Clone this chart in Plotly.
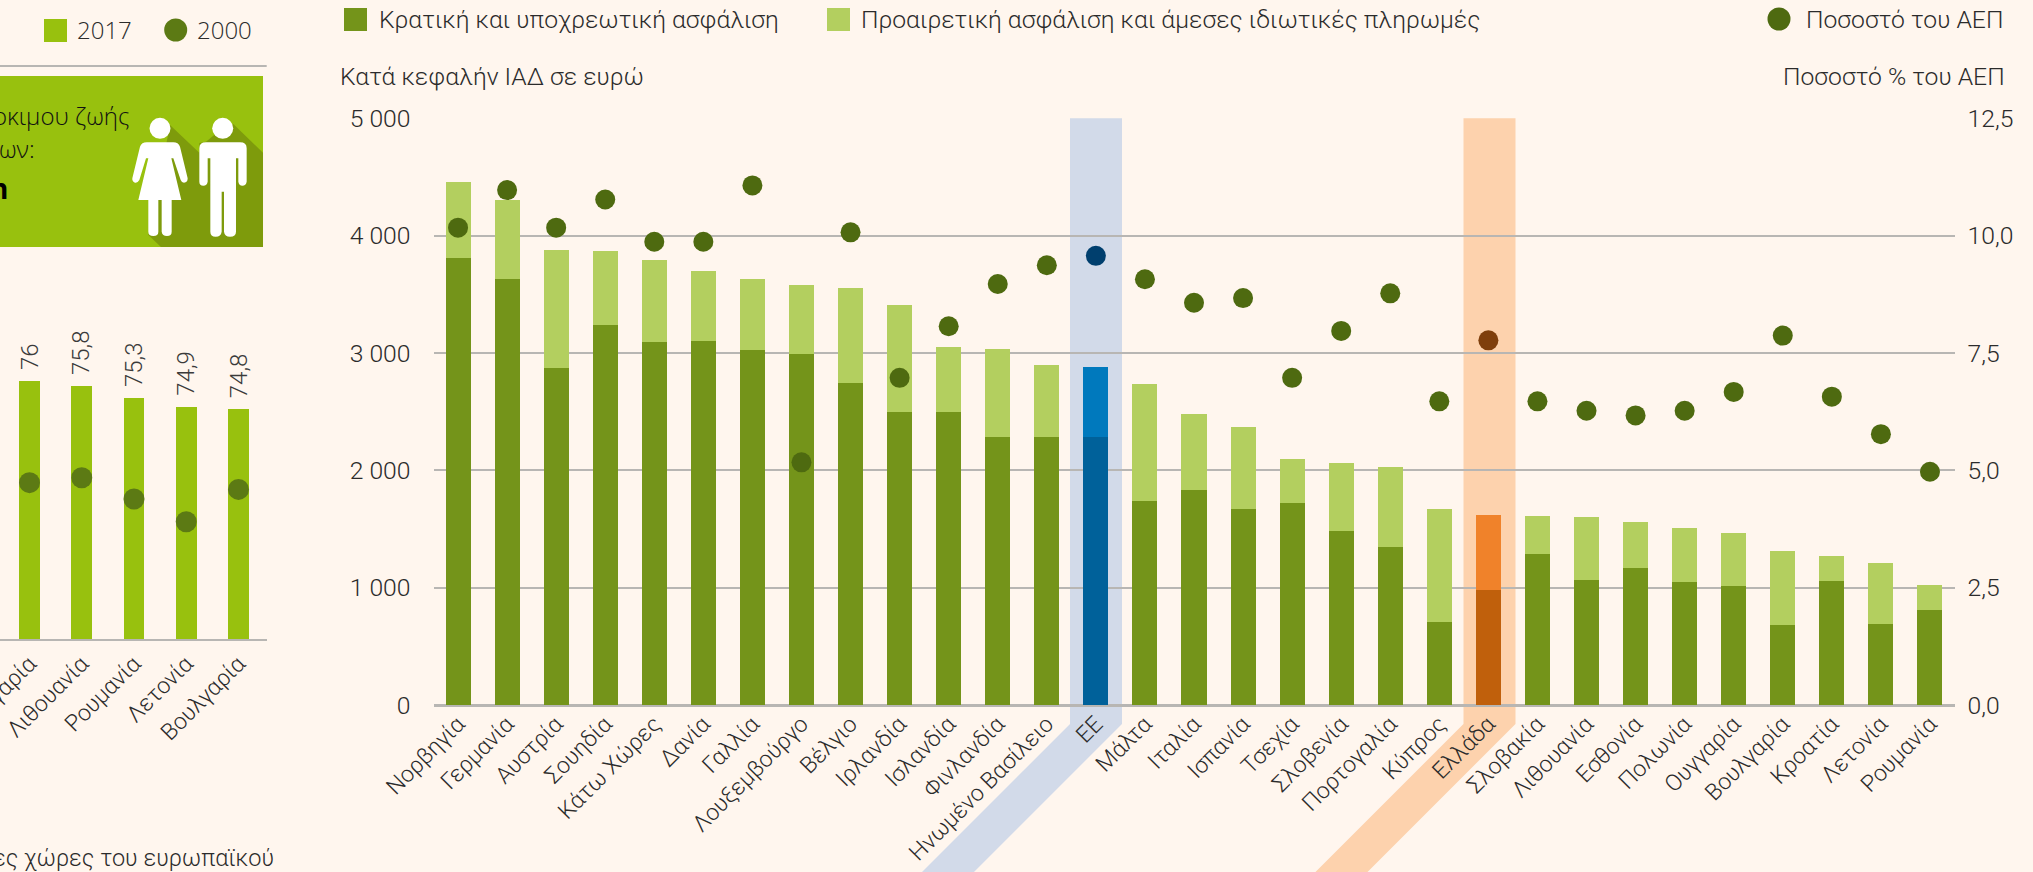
import plotly.graph_objects as go

W, H = 2033, 872

# ---------- data ----------
countries = ["Νορβηγία", "Γερμανία", "Αυστρία", "Σουηδία", "Κάτω Χώρες", "Δανία", "Γαλλία",
             "Λουξεμβούργο", "Βέλγιο", "Ιρλανδία", "Ισλανδία", "Φινλανδία", "Ηνωμένο Βασίλειο",
             "ΕΕ", "Μάλτα", "Ιταλία", "Ισπανία", "Τσεχία", "Σλοβενία", "Πορτογαλία", "Κύπρος",
             "Ελλάδα", "Σλοβακία", "Λιθουανία", "Εσθονία", "Πολωνία", "Ουγγαρία", "Βουλγαρία",
             "Κροατία", "Λετονία", "Ρουμανία"]
public_spend = [3809, 3630, 2871, 3238, 3093, 3102, 3025, 2991, 2743, 2496, 2496, 2285, 2285,
                2285, 1739, 1833, 1671, 1722, 1484, 1347, 708, 980, 1287, 1066, 1168, 1049,
                1015, 682, 1057, 691, 810]
total_spend = [4457, 4304, 3877, 3869, 3792, 3698, 3630, 3579, 3553, 3408, 3050, 3033, 2897,
               2881, 2737, 2481, 2370, 2097, 2063, 2029, 1671, 1620, 1611, 1603, 1560, 1509,
               1466, 1313, 1270, 1211, 1023]
gdp_share = [10.17, 10.97, 10.17, 10.77, 9.87, 9.87, 11.07, 5.17, 10.07, 6.97, 8.07, 8.97, 9.37, 9.57, 9.07,
             8.57, 8.67, 6.97, 7.97, 8.77, 6.47, 7.77, 6.47, 6.27, 6.17, 6.27, 6.67, 7.87, 6.57, 5.77, 4.97]
private_spend = [t - p for t, p in zip(total_spend, public_spend)]

left_countries = ["Ουγγαρία", "Λιθουανία", "Ρουμανία", "Λετονία", "Βουλγαρία"]
life_2017 = [76.0, 75.8, 75.3, 74.9, 74.8]
life_2017_labels = ["76", "75,8", "75,3", "74,9", "74,8"]
life_2000 = [71.67, 71.88, 70.97, 70.0, 71.38]

y_left_ticks = [0, 1000, 2000, 3000, 4000, 5000]
y_left_labels = ["0", "1 000", "2 000", "3 000", "4 000", "5 000"]
y_right_ticks = [0, 2.5, 5, 7.5, 10, 12.5]
y_right_labels = ["0,0", "2,5", "5,0", "7,5", "10,0", "12,5"]

# ---------- styles ----------
BG = "#FFF6EE"
GRID = "#B8B6B3"
TXT = "#2B2B2B"
DARK, LIGHT, DOT = "#74941A", "#B3CF5F", "#4E6A10"
EU_DARK, EU_LIGHT, EU_DOT = "#00619A", "#0079BD", "#003F6E"
GR_DARK, GR_LIGHT, GR_DOT = "#C0600C", "#F0822A", "#7F3F0C"
BAND_EU, BAND_GR = "#D2DAE9", "#FDD2AD"
LEFT_BAR, LEFT_DOT = "#98C10E", "#5C7A14"
SHADOW = "#7E9B0C"
FONT = "Roboto"


def px(x):
    return x / W


def py(y):
    return 1 - y / H


def pick(name, normal, eu, gr):
    return eu if name == "ΕΕ" else gr if name == "Ελλάδα" else normal


def poly(points):
    return "M " + " L ".join(f"{px(x):.5f},{py(y):.5f}" for x, y in points) + " Z"


def icon_path(cmds):
    """Icon outline given in 3x-crop pixels, returned in paper coordinates."""
    out = []
    for c in cmds.split():
        if "," in c:
            a, b = c.split(",")
            out.append(f"{px(float(a) / 3):.5f},{py(float(b) / 3):.5f}")
        else:
            out.append(c)
    return " ".join(out)


fig = go.Figure()

# main panel
fig.add_bar(x=countries, y=public_spend, xaxis="x", yaxis="y", name="Κρατική και υποχρεωτική ασφάλιση",
            marker=dict(color=[pick(c, DARK, EU_DARK, GR_DARK) for c in countries], line_width=0))
fig.add_bar(x=countries, y=private_spend, xaxis="x", yaxis="y",
            name="Προαιρετική ασφάλιση και άμεσες ιδιωτικές πληρωμές",
            marker=dict(color=[pick(c, LIGHT, EU_LIGHT, GR_LIGHT) for c in countries], line_width=0))
fig.add_scatter(x=countries, y=gdp_share, xaxis="x", yaxis="y2", mode="markers", name="Ποσοστό του ΑΕΠ",
                marker=dict(size=20, color=[pick(c, DOT, EU_DOT, GR_DOT) for c in countries], line_width=0))

# left panel
fig.add_bar(x=left_countries, y=life_2017, xaxis="x2", yaxis="y3", name="2017", width=0.4,
            marker=dict(color=LEFT_BAR, line_width=0))
fig.add_scatter(x=left_countries, y=life_2000, xaxis="x2", yaxis="y3", mode="markers", name="2000",
                marker=dict(size=21, color=LEFT_DOT, line_width=0))

shapes = []
# highlight bands running down off the page
for x0, x1, colour in [(1070, 1122, BAND_EU), (1463.5, 1515.5, BAND_GR)]:
    shapes.append(dict(type="path", xref="paper", yref="paper", layer="below", line_width=0, fillcolor=colour,
                       path=poly([(x0, 118.3), (x1, 118.3), (x1, 724), (x1 - 148, 872), (x0 - 148, 872), (x0, 724)])))


def rect(x0, y0, x1, y1, colour, layer="below"):
    shapes.append(dict(type="rect", xref="paper", yref="paper", layer=layer, line_width=0, fillcolor=colour,
                       x0=px(x0), x1=px(x1), y0=py(y1), y1=py(y0)))


def circle(cx, cy, r, colour, layer="below"):
    shapes.append(dict(type="circle", xref="paper", yref="paper", layer=layer, line_width=0, fillcolor=colour,
                       x0=px(cx - r), x1=px(cx + r), y0=py(cy + r), y1=py(cy - r)))


# legends
rect(344, 8, 367, 31, DARK)
rect(827, 8, 850, 31, LIGHT)
circle(1779, 19, 11.5, DOT)
rect(44, 19, 67, 42, LEFT_BAR)
circle(175.7, 30, 11.5, LEFT_DOT)

# left panel rule and info box
shapes.append(dict(type="line", xref="paper", yref="paper", layer="below", line=dict(color=GRID, width=2),
                   x0=0, x1=px(266.7), y0=py(66), y1=py(66)))
rect(0, 76, 263, 247, LEFT_BAR)
shapes.append(dict(type="path", xref="paper", yref="paper", layer="below", line_width=0, fillcolor=SHADOW,
                   path=poly([(170, 125), (199.3, 152.7), (199.3, 143), (206, 141.7), (222.7, 128), (233.3, 124),
                              (263, 152.7), (263, 247), (161, 247), (148.3, 235)])))
circle(160, 128.3, 10.5, "#FFFFFF")
circle(222.7, 128.3, 10.5, "#FFFFFF")
woman = ("M 420,440 Q 425,427 440,427 L 520,427 Q 535,427 540,440 L 563,535 Q 563,548 552,548 Q 545,548 542,540 "
         "L 520,475 L 514,475 L 544,600 L 515,600 L 515,695 Q 515,708 501,708 Q 487,708 485,695 L 485,600 "
         "L 475,600 L 475,695 Q 475,708 460,708 Q 445,708 445,695 L 445,600 L 415,600 L 445,475 L 438,475 "
         "L 418,540 Q 412,550 405,548 Q 396,545 397,535 Z")
man = ("M 598,445 Q 598,427 618,427 L 720,427 Q 740,427 740,445 L 740,545 Q 738,557 727,557 Q 717,557 715,545 "
       "L 715,475 L 708,475 L 708,695 Q 708,710 690,710 Q 674,710 672,695 L 672,575 L 665,575 L 665,695 "
       "Q 663,710 647,710 Q 631,710 631,695 L 631,475 L 623,475 L 623,545 Q 621,557 610,557 Q 598,557 598,545 Z")
for p in (woman, man):
    shapes.append(dict(type="path", xref="paper", yref="paper", layer="below", line_width=0, fillcolor="#FFFFFF",
                       path=icon_path(p)))


def text(x, y, s, size=24.7, anchor="left", family=FONT, weight=300, colour=TXT):
    return dict(xref="paper", yref="paper", x=px(x), y=py(y), text=s, showarrow=False, xanchor=anchor,
                yanchor="middle", font=dict(family=family, size=size, color=colour, weight=weight),
                align=anchor, borderpad=0, borderwidth=0)


annotations = [
    text(379, 19, "Κρατική και υποχρεωτική ασφάλιση"),
    text(861, 19, "Προαιρετική ασφάλιση και άμεσες ιδιωτικές πληρωμές"),
    text(1806, 19, "Ποσοστό του ΑΕΠ"),
    text(340, 76, "Κατά κεφαλήν ΙΑΔ σε ευρώ"),
    text(2005, 76, "Ποσοστό % του ΑΕΠ", anchor="right"),
    text(77, 30, "2017", size=24, family="Open Sans"),
    text(197, 30, "2000", size=24, family="Open Sans"),
    text(129, 115, "οκιμου ζωής", size=24, anchor="right", family="Open Sans", colour="#111111"),
    text(35, 149, "ων:", size=24, anchor="right", family="Open Sans", colour="#111111"),
    text(8, 188, "n", size=28, anchor="right", family="Open Sans", weight=700, colour="#000000"),
    text(274, 858, "λες χώρες του ευρωπαϊκού", size=23.5, anchor="right", weight=300),
]
for c, v, lab in zip(left_countries, life_2017, life_2017_labels):
    annotations.append(dict(xref="x2", yref="y3", x=c, y=v, text=lab, showarrow=False, textangle=-90,
                            yanchor="bottom", yshift=9, font=dict(family=FONT, size=24, color="#3A3A3A", weight=300)))

tickfont = dict(family=FONT, size=24.7, color=TXT, weight=300)
xtickfont = dict(family=FONT, size=23, color=TXT, weight=300)
fig.update_layout(
    width=W, height=H, autosize=False, margin=dict(l=0, r=0, t=0, b=0),
    paper_bgcolor=BG, plot_bgcolor="rgba(0,0,0,0)", barmode="stack", bargap=0.49,
    showlegend=False, shapes=shapes, annotations=annotations,
    font=dict(family=FONT, color=TXT),
    xaxis=dict(domain=[px(433.5), px(1954.5)], range=[-0.5, 30.5], type="category",
               categoryorder="array", categoryarray=countries, tickangle=-45, tickfont=xtickfont,
               ticks="", showgrid=False, showline=False, zeroline=False, anchor="y", automargin=False),
    yaxis=dict(domain=[py(705), py(118.3)], range=[0, 5000], tickvals=y_left_ticks, ticktext=y_left_labels,
               tickfont=tickfont, ticklabelstandoff=22, gridcolor=GRID, gridwidth=2, zeroline=True,
               zerolinecolor=GRID, zerolinewidth=3, showline=False, ticks="", automargin=False, anchor="x"),
    yaxis2=dict(overlaying="y", side="right", range=[0, 12.5], tickvals=y_right_ticks, ticktext=y_right_labels,
                tickfont=tickfont, ticklabelstandoff=12, showgrid=False, zeroline=False, showline=False,
                ticks="", automargin=False, anchor="x"),
    xaxis2=dict(domain=[0, px(266.7)], range=[-0.5646, 4.54], type="category",
                categoryorder="array", categoryarray=left_countries, tickangle=-45, tickfont=xtickfont,
                ticks="", showgrid=False, zeroline=False, showline=True, linecolor=GRID, linewidth=2,
                anchor="y3", automargin=False),
    yaxis3=dict(domain=[py(639), py(300)], range=[65, 79.46], visible=False, showgrid=False, zeroline=False,
                anchor="x2"),
)

fig.write_html("out.html", config={"displayModeBar": False},
               post_script="document.body.style.margin='0';document.body.style.overflow='hidden';")
